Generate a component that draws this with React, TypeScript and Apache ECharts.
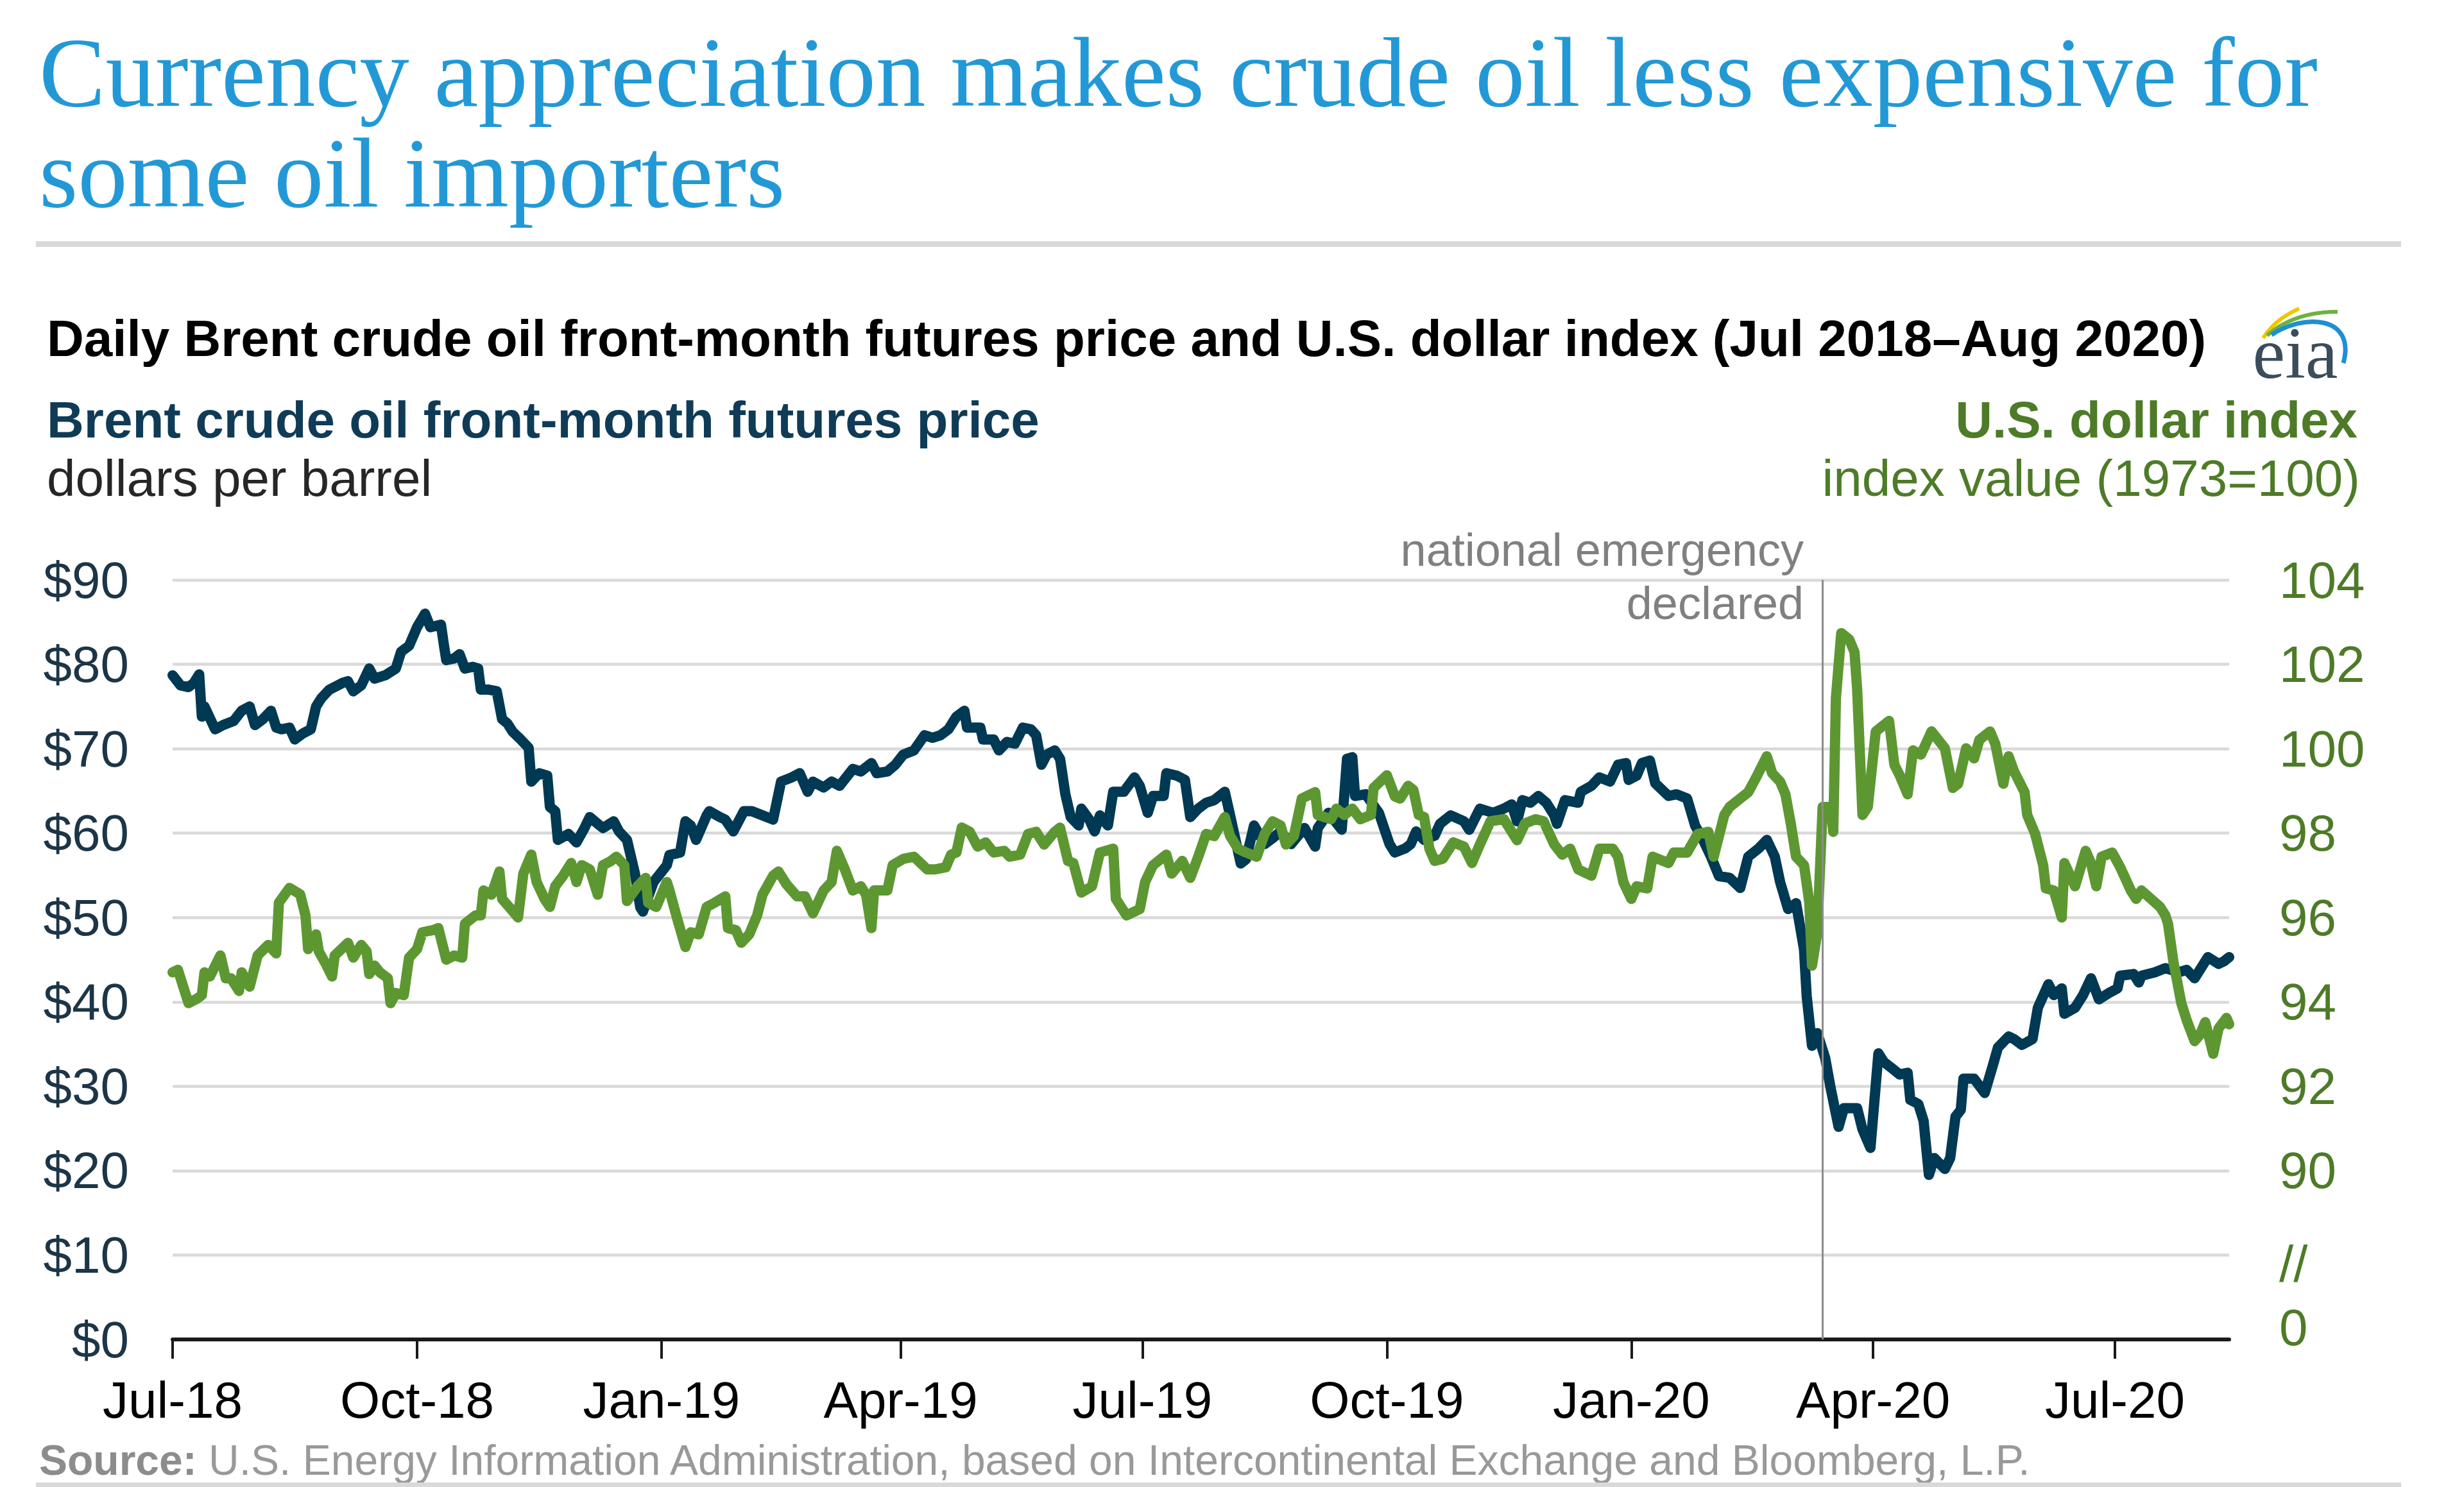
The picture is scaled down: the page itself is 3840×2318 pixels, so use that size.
import React, { useEffect, useRef } from 'react';
import * as echarts from 'echarts';

const SANS = '"Liberation Sans", Arial, Helvetica, sans-serif';
const SERIF = '"Liberation Serif", "Times New Roman", serif';

const TITLE_LINES = ['Currency appreciation makes crude oil less expensive for', 'some oil importers'];
const SUBTITLE = 'Daily Brent crude oil front-month futures price and U.S. dollar index (Jul 2018\u2013Aug 2020)';
const LEFT_AXIS_TITLE = 'Brent crude oil front-month futures price';
const LEFT_AXIS_UNIT = 'dollars per barrel';
const RIGHT_AXIS_TITLE = 'U.S. dollar index';
const RIGHT_AXIS_UNIT = 'index value (1973=100)';
const EVENT_LABEL = ['national emergency', 'declared'];
const EVENT_DATE = '2020-03-13';
const SOURCE_BOLD = 'Source:';
const SOURCE_TEXT = ' U.S. Energy Information Administration, based on Intercontinental Exchange and Bloomberg, L.P.';

const X_START = '2018-07-01';
const X_END = '2020-08-13';
const X_TICK_DATES = ['2018-07-01', '2018-10-01', '2019-01-01', '2019-04-01', '2019-07-01', '2019-10-01', '2020-01-01', '2020-04-01', '2020-07-01'];
const MONTHS = ['Jan', 'Feb', 'Mar', 'Apr', 'May', 'Jun', 'Jul', 'Aug', 'Sep', 'Oct', 'Nov', 'Dec'];

// left axis: dollars per barrel
const PRICE_MIN = 0;
const PRICE_MAX = 90;
const PRICE_STEP = 10;
// right axis: broken axis, 86 -> "0", 88 -> "//"
const INDEX_MIN = 86;
const INDEX_MAX = 104;
const INDEX_STEP = 2;

const brentPrice: [string, number][] = [
  ['2018-07-01', 78.7], ['2018-07-04', 77.5], ['2018-07-07', 77.3], ['2018-07-09', 77.8], ['2018-07-11', 78.8], ['2018-07-12', 73.8], ['2018-07-13', 75.0], ['2018-07-17', 72.3], ['2018-07-20', 72.8], ['2018-07-24', 73.3], ['2018-07-27', 74.5], ['2018-07-30', 75.0],
  ['2018-08-01', 72.8], ['2018-08-04', 73.5], ['2018-08-07', 74.5], ['2018-08-09', 72.5], ['2018-08-11', 72.3], ['2018-08-14', 72.5], ['2018-08-16', 71.1], ['2018-08-19', 71.8], ['2018-08-22', 72.3], ['2018-08-24', 75.0], ['2018-08-26', 76.0], ['2018-08-29', 77.0],
  ['2018-09-03', 77.8], ['2018-09-05', 78.0], ['2018-09-07', 76.8], ['2018-09-10', 77.5], ['2018-09-13', 79.5], ['2018-09-15', 78.3], ['2018-09-19', 78.7], ['2018-09-23', 79.5], ['2018-09-25', 81.5], ['2018-09-28', 82.2],
  ['2018-10-01', 84.4], ['2018-10-04', 86.0], ['2018-10-06', 84.4], ['2018-10-10', 84.7], ['2018-10-11', 82.5], ['2018-10-12', 80.5], ['2018-10-15', 80.7], ['2018-10-17', 81.2], ['2018-10-19', 79.5], ['2018-10-22', 79.7], ['2018-10-24', 79.5], ['2018-10-25', 77.0], ['2018-10-28', 77.0], ['2018-10-31', 76.8],
  ['2018-11-02', 73.5], ['2018-11-04', 73.0], ['2018-11-06', 72.0], ['2018-11-09', 71.1], ['2018-11-12', 70.1], ['2018-11-13', 66.1], ['2018-11-16', 67.1], ['2018-11-19', 66.8], ['2018-11-20', 63.1], ['2018-11-22', 62.6], ['2018-11-23', 59.2], ['2018-11-27', 59.9], ['2018-11-30', 58.9],
  ['2018-12-03', 60.6], ['2018-12-05', 61.9], ['2018-12-08', 61.1], ['2018-12-10', 60.6], ['2018-12-14', 61.4], ['2018-12-16', 60.2], ['2018-12-19', 59.2], ['2018-12-22', 55.2], ['2018-12-24', 51.2], ['2018-12-25', 50.7], ['2018-12-29', 54.2],
  ['2019-01-03', 56.2], ['2019-01-04', 57.4], ['2019-01-08', 57.7], ['2019-01-10', 61.4], ['2019-01-12', 60.9], ['2019-01-14', 59.2], ['2019-01-18', 62.1], ['2019-01-19', 62.6], ['2019-01-23', 61.9], ['2019-01-25', 61.6], ['2019-01-28', 60.2],
  ['2019-02-01', 62.6], ['2019-02-04', 62.6], ['2019-02-08', 62.1], ['2019-02-12', 61.6], ['2019-02-15', 66.1], ['2019-02-19', 66.6], ['2019-02-22', 67.1], ['2019-02-25', 64.9], ['2019-02-27', 66.1],
  ['2019-03-03', 65.4], ['2019-03-06', 66.1], ['2019-03-09', 65.6], ['2019-03-12', 66.8], ['2019-03-14', 67.6], ['2019-03-17', 67.3], ['2019-03-21', 68.3], ['2019-03-23', 67.1], ['2019-03-27', 67.3], ['2019-03-30', 68.1],
  ['2019-04-02', 69.3], ['2019-04-06', 69.8], ['2019-04-10', 71.6], ['2019-04-13', 71.3], ['2019-04-16', 71.6], ['2019-04-19', 72.3], ['2019-04-22', 73.8], ['2019-04-25', 74.5], ['2019-04-26', 72.5],
  ['2019-05-01', 72.5], ['2019-05-02', 71.1], ['2019-05-06', 71.1], ['2019-05-08', 69.8], ['2019-05-11', 70.8], ['2019-05-14', 70.6], ['2019-05-17', 72.5], ['2019-05-20', 72.3], ['2019-05-22', 71.6], ['2019-05-24', 68.1], ['2019-05-26', 69.3], ['2019-05-29', 69.8], ['2019-05-31', 68.8],
  ['2019-06-02', 64.6], ['2019-06-04', 61.9], ['2019-06-07', 60.9], ['2019-06-08', 62.9], ['2019-06-11', 61.6], ['2019-06-13', 60.2], ['2019-06-15', 62.1], ['2019-06-18', 60.9], ['2019-06-20', 64.9], ['2019-06-24', 64.9], ['2019-06-28', 66.6], ['2019-06-30', 65.6],
  ['2019-07-03', 62.4], ['2019-07-05', 64.4], ['2019-07-09', 64.4], ['2019-07-10', 67.1], ['2019-07-14', 66.8], ['2019-07-17', 66.3], ['2019-07-19', 61.9], ['2019-07-22', 62.9], ['2019-07-25', 63.6], ['2019-07-28', 63.9],
  ['2019-08-01', 64.9], ['2019-08-03', 62.1], ['2019-08-07', 56.4], ['2019-08-09', 56.9], ['2019-08-12', 60.9], ['2019-08-16', 58.7], ['2019-08-19', 59.4], ['2019-08-22', 60.2], ['2019-08-26', 58.7], ['2019-08-31', 60.6],
  ['2019-09-04', 58.4], ['2019-09-05', 60.6], ['2019-09-09', 62.4], ['2019-09-14', 60.4], ['2019-09-16', 68.8], ['2019-09-18', 69.0], ['2019-09-19', 64.4], ['2019-09-23', 64.6], ['2019-09-28', 62.4],
  ['2019-10-02', 58.7], ['2019-10-04', 57.7], ['2019-10-08', 58.2], ['2019-10-10', 58.7], ['2019-10-12', 60.2], ['2019-10-15', 59.2], ['2019-10-19', 59.7], ['2019-10-21', 61.1], ['2019-10-25', 62.1], ['2019-10-30', 61.4],
  ['2019-11-01', 60.4], ['2019-11-05', 62.9], ['2019-11-10', 62.4], ['2019-11-14', 62.9], ['2019-11-17', 63.4], ['2019-11-19', 61.4], ['2019-11-21', 63.9], ['2019-11-24', 63.6], ['2019-11-27', 64.4], ['2019-11-30', 63.6],
  ['2019-12-03', 62.1], ['2019-12-04', 61.1], ['2019-12-07', 63.9], ['2019-12-12', 63.6], ['2019-12-13', 64.9], ['2019-12-17', 65.6], ['2019-12-20', 66.6], ['2019-12-24', 66.1], ['2019-12-27', 68.1], ['2019-12-30', 68.3], ['2019-12-31', 66.3],
  ['2020-01-03', 66.8], ['2020-01-05', 68.3], ['2020-01-08', 68.6], ['2020-01-10', 65.9], ['2020-01-15', 64.4], ['2020-01-18', 64.6], ['2020-01-22', 64.1], ['2020-01-25', 60.9], ['2020-01-28', 59.2], ['2020-01-31', 57.2],
  ['2020-02-03', 54.9], ['2020-02-07', 54.7], ['2020-02-11', 53.5], ['2020-02-14', 57.2], ['2020-02-18', 58.2], ['2020-02-21', 59.2], ['2020-02-24', 57.2], ['2020-02-26', 54.2], ['2020-02-29', 51.0],
  ['2020-03-03', 51.7], ['2020-03-06', 46.2], ['2020-03-07', 40.7], ['2020-03-09', 34.8], ['2020-03-11', 36.3], ['2020-03-14', 33.3], ['2020-03-16', 29.8], ['2020-03-19', 25.2], ['2020-03-21', 27.4], ['2020-03-26', 27.4], ['2020-03-28', 24.9], ['2020-03-31', 22.7],
  ['2020-04-03', 33.9], ['2020-04-05', 32.9], ['2020-04-09', 31.9], ['2020-04-11', 31.4], ['2020-04-14', 31.6], ['2020-04-15', 28.4], ['2020-04-18', 27.9], ['2020-04-20', 25.9], ['2020-04-22', 19.5], ['2020-04-24', 21.5], ['2020-04-28', 20.2], ['2020-04-30', 21.5],
  ['2020-05-02', 26.4], ['2020-05-04', 27.2], ['2020-05-05', 30.9], ['2020-05-09', 30.9], ['2020-05-13', 29.2], ['2020-05-16', 32.4], ['2020-05-18', 34.6], ['2020-05-22', 35.9], ['2020-05-24', 35.6], ['2020-05-27', 34.9], ['2020-05-31', 35.6],
  ['2020-06-02', 39.3], ['2020-06-06', 42.1], ['2020-06-08', 40.8], ['2020-06-11', 41.6], ['2020-06-12', 38.6], ['2020-06-16', 39.3], ['2020-06-19', 40.8], ['2020-06-22', 42.8], ['2020-06-25', 40.3], ['2020-06-29', 41.1],
  ['2020-07-02', 41.6], ['2020-07-03', 43.1], ['2020-07-08', 43.3], ['2020-07-10', 42.3], ['2020-07-11', 43.1], ['2020-07-16', 43.5], ['2020-07-20', 44.0], ['2020-07-25', 43.5], ['2020-07-28', 43.8], ['2020-07-31', 42.8],
  ['2020-08-02', 43.8], ['2020-08-05', 45.3], ['2020-08-09', 44.5], ['2020-08-11', 44.8], ['2020-08-13', 45.3],
];

const dollarIndex: [string, number][] = [
  ['2018-07-01', 94.7], ['2018-07-03', 94.76], ['2018-07-05', 94.36], ['2018-07-07', 93.97], ['2018-07-10', 94.07], ['2018-07-12', 94.16], ['2018-07-13', 94.7], ['2018-07-15', 94.6], ['2018-07-19', 95.1], ['2018-07-21', 94.56], ['2018-07-23', 94.56], ['2018-07-26', 94.26], ['2018-07-27', 94.7], ['2018-07-30', 94.36],
  ['2018-08-02', 95.1], ['2018-08-06', 95.35], ['2018-08-09', 95.15], ['2018-08-10', 96.35], ['2018-08-14', 96.7], ['2018-08-18', 96.55], ['2018-08-20', 96.05], ['2018-08-21', 95.25], ['2018-08-24', 95.6], ['2018-08-25', 95.2], ['2018-08-28', 94.86], ['2018-08-30', 94.6], ['2018-08-31', 95.1],
  ['2018-09-05', 95.4], ['2018-09-07', 95.05], ['2018-09-10', 95.35], ['2018-09-12', 95.2], ['2018-09-13', 94.66], ['2018-09-15', 94.86], ['2018-09-17', 94.7], ['2018-09-20', 94.56], ['2018-09-21', 93.97], ['2018-09-23', 94.21], ['2018-09-26', 94.16], ['2018-09-28', 95.05],
  ['2018-10-01', 95.25], ['2018-10-03', 95.65], ['2018-10-07', 95.7], ['2018-10-09', 95.75], ['2018-10-12', 95.0], ['2018-10-15', 95.1], ['2018-10-18', 95.05], ['2018-10-19', 95.85], ['2018-10-23', 96.05], ['2018-10-25', 96.05], ['2018-10-26', 96.64], ['2018-10-29', 96.54],
  ['2018-11-01', 97.09], ['2018-11-02', 96.44], ['2018-11-06', 96.15], ['2018-11-08', 96.0], ['2018-11-10', 97.04], ['2018-11-13', 97.49], ['2018-11-15', 96.84], ['2018-11-18', 96.44], ['2018-11-20', 96.25], ['2018-11-22', 96.74], ['2018-11-25', 96.99], ['2018-11-28', 97.29], ['2018-11-30', 96.84],
  ['2018-12-02', 97.24], ['2018-12-05', 97.14], ['2018-12-08', 96.54], ['2018-12-10', 97.24], ['2018-12-13', 97.34], ['2018-12-15', 97.44], ['2018-12-18', 97.24], ['2018-12-19', 96.39], ['2018-12-23', 96.74], ['2018-12-26', 96.94], ['2018-12-27', 96.35], ['2018-12-30', 96.25],
  ['2019-01-03', 96.84], ['2019-01-04', 96.64], ['2019-01-07', 95.95], ['2019-01-10', 95.3], ['2019-01-12', 95.65], ['2019-01-15', 95.6], ['2019-01-18', 96.25], ['2019-01-21', 96.35], ['2019-01-25', 96.5], ['2019-01-26', 95.75], ['2019-01-29', 95.7], ['2019-01-31', 95.4],
  ['2019-02-03', 95.6], ['2019-02-06', 96.05], ['2019-02-08', 96.54], ['2019-02-12', 96.99], ['2019-02-14', 97.09], ['2019-02-17', 96.79], ['2019-02-21', 96.5], ['2019-02-24', 96.5], ['2019-02-27', 96.1],
  ['2019-03-03', 96.64], ['2019-03-06', 96.84], ['2019-03-08', 97.58], ['2019-03-11', 97.14], ['2019-03-14', 96.64], ['2019-03-17', 96.74], ['2019-03-19', 96.54], ['2019-03-21', 95.75], ['2019-03-22', 96.64], ['2019-03-27', 96.64], ['2019-03-29', 97.24],
  ['2019-04-02', 97.39], ['2019-04-06', 97.44], ['2019-04-11', 97.14], ['2019-04-14', 97.14], ['2019-04-18', 97.19], ['2019-04-20', 97.49], ['2019-04-22', 97.54], ['2019-04-24', 98.13], ['2019-04-27', 98.03], ['2019-04-30', 97.68],
  ['2019-05-03', 97.78], ['2019-05-06', 97.54], ['2019-05-10', 97.58], ['2019-05-12', 97.44], ['2019-05-16', 97.49], ['2019-05-19', 97.98], ['2019-05-22', 98.03], ['2019-05-25', 97.73], ['2019-05-29', 98.03], ['2019-05-31', 98.13],
  ['2019-06-03', 97.34], ['2019-06-05', 97.29], ['2019-06-08', 96.59], ['2019-06-12', 96.74], ['2019-06-15', 97.54], ['2019-06-20', 97.63], ['2019-06-21', 96.44], ['2019-06-25', 96.05], ['2019-06-30', 96.2],
  ['2019-07-02', 96.84], ['2019-07-05', 97.24], ['2019-07-10', 97.49], ['2019-07-12', 97.04], ['2019-07-16', 97.34], ['2019-07-19', 96.94], ['2019-07-22', 97.44], ['2019-07-25', 97.98], ['2019-07-28', 97.93],
  ['2019-08-01', 98.38], ['2019-08-03', 97.93], ['2019-08-06', 97.63], ['2019-08-09', 97.54], ['2019-08-13', 97.44], ['2019-08-16', 97.98], ['2019-08-19', 98.28], ['2019-08-22', 98.18], ['2019-08-24', 97.73], ['2019-08-27', 97.93], ['2019-08-30', 98.82],
  ['2019-09-04', 98.97], ['2019-09-05', 98.43], ['2019-09-10', 98.33], ['2019-09-12', 98.58], ['2019-09-15', 98.43], ['2019-09-18', 98.58], ['2019-09-21', 98.33], ['2019-09-25', 98.43], ['2019-09-26', 99.07],
  ['2019-10-01', 99.37], ['2019-10-04', 98.87], ['2019-10-06', 98.82], ['2019-10-09', 99.12], ['2019-10-11', 99.02], ['2019-10-13', 98.43], ['2019-10-15', 98.38], ['2019-10-17', 97.63], ['2019-10-19', 97.34], ['2019-10-22', 97.39], ['2019-10-26', 97.78], ['2019-10-30', 97.68],
  ['2019-11-02', 97.29], ['2019-11-05', 97.73], ['2019-11-09', 98.28], ['2019-11-14', 98.33], ['2019-11-19', 97.83], ['2019-11-22', 98.23], ['2019-11-26', 98.33], ['2019-11-29', 98.28],
  ['2019-12-03', 97.73], ['2019-12-06', 97.49], ['2019-12-09', 97.63], ['2019-12-12', 97.14], ['2019-12-17', 96.99], ['2019-12-20', 97.63], ['2019-12-25', 97.63], ['2019-12-27', 97.44], ['2019-12-29', 96.84],
  ['2020-01-01', 96.44], ['2020-01-03', 96.74], ['2020-01-07', 96.69], ['2020-01-09', 97.44], ['2020-01-15', 97.29], ['2020-01-17', 97.54], ['2020-01-22', 97.54], ['2020-01-26', 97.98], ['2020-01-30', 98.03],
  ['2020-02-01', 97.44], ['2020-02-05', 98.43], ['2020-02-07', 98.62], ['2020-02-11', 98.82], ['2020-02-14', 98.97], ['2020-02-17', 99.32], ['2020-02-21', 99.82], ['2020-02-23', 99.42], ['2020-02-26', 99.22], ['2020-02-28', 98.92],
  ['2020-03-01', 98.23], ['2020-03-03', 97.44], ['2020-03-06', 97.24], ['2020-03-08', 96.35], ['2020-03-09', 94.86], ['2020-03-11', 95.65], ['2020-03-13', 98.62], ['2020-03-16', 98.62], ['2020-03-17', 98.03], ['2020-03-18', 101.2], ['2020-03-20', 102.74], ['2020-03-23', 102.59], ['2020-03-25', 102.29], ['2020-03-26', 101.4], ['2020-03-28', 98.43], ['2020-03-30', 98.62], ['2020-03-31', 99.22],
  ['2020-04-02', 100.41], ['2020-04-07', 100.66], ['2020-04-09', 99.62], ['2020-04-11', 99.37], ['2020-04-14', 98.92], ['2020-04-16', 99.96], ['2020-04-19', 99.86], ['2020-04-23', 100.41], ['2020-04-28', 100.01],
  ['2020-05-01', 99.07], ['2020-05-03', 99.17], ['2020-05-06', 100.01], ['2020-05-09', 99.77], ['2020-05-11', 100.21], ['2020-05-15', 100.41], ['2020-05-17', 100.11], ['2020-05-20', 99.17], ['2020-05-22', 99.82], ['2020-05-24', 99.47], ['2020-05-28', 98.97], ['2020-05-29', 98.43],
  ['2020-06-01', 97.98], ['2020-06-04', 97.24], ['2020-06-05', 96.69], ['2020-06-08', 96.64], ['2020-06-11', 96.0], ['2020-06-12', 97.29], ['2020-06-16', 96.74], ['2020-06-20', 97.58], ['2020-06-22', 97.29], ['2020-06-24', 96.74], ['2020-06-26', 97.44], ['2020-06-30', 97.54],
  ['2020-07-03', 97.19], ['2020-07-07', 96.64], ['2020-07-09', 96.44], ['2020-07-11', 96.64], ['2020-07-18', 96.25], ['2020-07-20', 96.05], ['2020-07-21', 95.85], ['2020-07-23', 94.96], ['2020-07-26', 93.97], ['2020-07-28', 93.57], ['2020-07-31', 93.07],
  ['2020-08-02', 93.22], ['2020-08-04', 93.52], ['2020-08-07', 92.77], ['2020-08-09', 93.37], ['2020-08-12', 93.62], ['2020-08-13', 93.47],
];

const NAVY = '#003953';
const GREEN = '#5d9732';
const GREEN_TEXT = '#4d7b27';
const TITLE_BLUE = '#2299d6';

function ts(s: string): number {
  const [y, m, d] = s.split('-').map(Number);
  return new Date(y, m - 1, d).getTime();
}

function textEl(x: number, y: number, text: string, font: string, fill: string, align: string) {
  return {
    type: 'text',
    x,
    y,
    style: { text, font, fill, align, verticalAlign: 'middle', textAlign: align, textVerticalAlign: 'middle' },
  };
}

export default function App() {
  const ref = useRef<HTMLDivElement>(null);

  useEffect(() => {
    document.body.style.margin = '0';
    if (!ref.current) return;
    const chart = echarts.init(ref.current, undefined, { renderer: 'svg' });
    const xTicks = X_TICK_DATES.map(ts);

    const option: any = {
      animation: false,
      backgroundColor: '#ffffff',
      textStyle: { fontFamily: SANS },
      grid: { left: 269, right: 366, top: 904, bottom: 230, containLabel: false },
      xAxis: {
        type: 'value',
        min: ts(X_START),
        max: ts(X_END),
        axisLine: { show: true, onZero: false, lineStyle: { color: '#1a1a1a', width: 6 } },
        axisTick: { show: true, inside: false, length: 30, customValues: xTicks, lineStyle: { color: '#1a1a1a', width: 4 } },
        axisLabel: {
          show: true,
          customValues: xTicks,
          margin: 54,
          color: '#000000',
          fontSize: 80,
          fontFamily: SANS,
          showMinLabel: true,
          showMaxLabel: true,
          formatter: (v: number) => {
            const d = new Date(v);
            return MONTHS[d.getMonth()] + '-' + String(d.getFullYear()).slice(2);
          },
        },
        splitLine: { show: false },
      },
      yAxis: [
        {
          type: 'value',
          position: 'left',
          min: PRICE_MIN,
          max: PRICE_MAX,
          interval: PRICE_STEP,
          axisLine: { show: false },
          axisTick: { show: false },
          axisLabel: { margin: 68, color: '#1c3547', fontSize: 80, fontFamily: SANS, formatter: (v: number) => '$' + v },
          splitLine: { show: true, lineStyle: { color: '#d9d9d9', width: 4.5 } },
        },
        {
          type: 'value',
          position: 'right',
          min: INDEX_MIN,
          max: INDEX_MAX,
          interval: INDEX_STEP,
          axisLine: { show: false },
          axisTick: { show: false },
          axisLabel: {
            margin: 78,
            color: GREEN_TEXT,
            fontSize: 80,
            fontFamily: SANS,
            formatter: (v: number) => (v === INDEX_MIN ? '{z|0}' : v === INDEX_MIN + INDEX_STEP ? '{s|//}' : String(v)),
            rich: {
              z: { fontSize: 80, color: GREEN_TEXT, fontFamily: SANS, padding: [0, 0, 38, 0] },
              s: { fontSize: 80, color: GREEN_TEXT, fontFamily: SANS, padding: [28, 0, 0, 0] },
            },
          },
          splitLine: { show: false },
        },
      ],
      series: [
        {
          name: 'Brent',
          type: 'line',
          xAxisIndex: 0,
          yAxisIndex: 0,
          showSymbol: false,
          symbol: 'none',
          lineStyle: { color: NAVY, width: 16, cap: 'round', join: 'round' },
          data: brentPrice.map(([d, v]) => [ts(d), v]),
          markLine: {
            silent: true,
            symbol: ['none', 'none'],
            label: { show: false },
            lineStyle: { color: '#8c8c8c', width: 3, type: 'solid' },
            data: [{ xAxis: ts(EVENT_DATE) }],
          },
        },
        {
          name: 'Dollar index',
          type: 'line',
          xAxisIndex: 0,
          yAxisIndex: 1,
          showSymbol: false,
          symbol: 'none',
          lineStyle: { color: GREEN, width: 16, cap: 'round', join: 'round' },
          data: dollarIndex.map(([d, v]) => [ts(d), v]),
        },
      ],
      graphic: [
        textEl(61, 113, TITLE_LINES[0], `155px ${SERIF}`, TITLE_BLUE, 'left'),
        textEl(61, 270, TITLE_LINES[1], `155px ${SERIF}`, TITLE_BLUE, 'left'),
        { type: 'rect', shape: { x: 56, y: 376, width: 3686, height: 9 }, style: { fill: '#d9d9d9' } },
        textEl(73, 527, SUBTITLE, `bold 80px ${SANS}`, '#000000', 'left'),
        textEl(73, 654, LEFT_AXIS_TITLE, `bold 80px ${SANS}`, '#0f3b57', 'left'),
        textEl(73, 745, LEFT_AXIS_UNIT, `80px ${SANS}`, '#262626', 'left'),
        textEl(3674, 654, RIGHT_AXIS_TITLE, `bold 80px ${SANS}`, GREEN_TEXT, 'right'),
        textEl(3678, 745, RIGHT_AXIS_UNIT, `80px ${SANS}`, GREEN_TEXT, 'right'),
        textEl(2811, 857, EVENT_LABEL[0], `72px ${SANS}`, '#808080', 'right'),
        textEl(2811, 940, EVENT_LABEL[1], `72px ${SANS}`, '#808080', 'right'),
        {
          type: 'text', x: 61, y: 2276,
          style: {
            text: `{b|${SOURCE_BOLD}}{r|${SOURCE_TEXT}}`,
            align: 'left', verticalAlign: 'middle', textAlign: 'left', textVerticalAlign: 'middle',
            rich: {
              b: { fontWeight: 'bold', fontSize: 66, fontFamily: SANS, fill: '#8c8c8c' },
              r: { fontSize: 66, fontFamily: SANS, fill: '#999999' },
            },
          },
        },
        { type: 'rect', shape: { x: 56, y: 2311, width: 3686, height: 7 }, style: { fill: '#d9d9d9' } },
        // eia logo
        { type: 'bezierCurve', shape: { x1: 3527, y1: 527, cpx1: 3545, cpy1: 498, x2: 3583, y2: 481 }, style: { stroke: '#f2c500', lineWidth: 6, fill: 'none' } },
        { type: 'bezierCurve', shape: { x1: 3533, y1: 523, cpx1: 3575, cpy1: 486, x2: 3643, y2: 486 }, style: { stroke: '#6cb33f', lineWidth: 6, fill: 'none' } },
        { type: 'bezierCurve', shape: { x1: 3540, y1: 522, cpx1: 3590, cpy1: 488, cpx2: 3672, cpy2: 492, x2: 3652, y2: 566 }, style: { stroke: '#1f8fd2', lineWidth: 7, fill: 'none' } },
        textEl(3577, 550, 'eia', `114px ${SERIF}`, '#3b4d5a', 'center'),
      ],
    };

    chart.setOption(option);
    return () => chart.dispose();
  }, []);

  return <div ref={ref} style={{ position: 'absolute', left: 0, top: 0, width: 3840, height: 2318 }} />;
}
